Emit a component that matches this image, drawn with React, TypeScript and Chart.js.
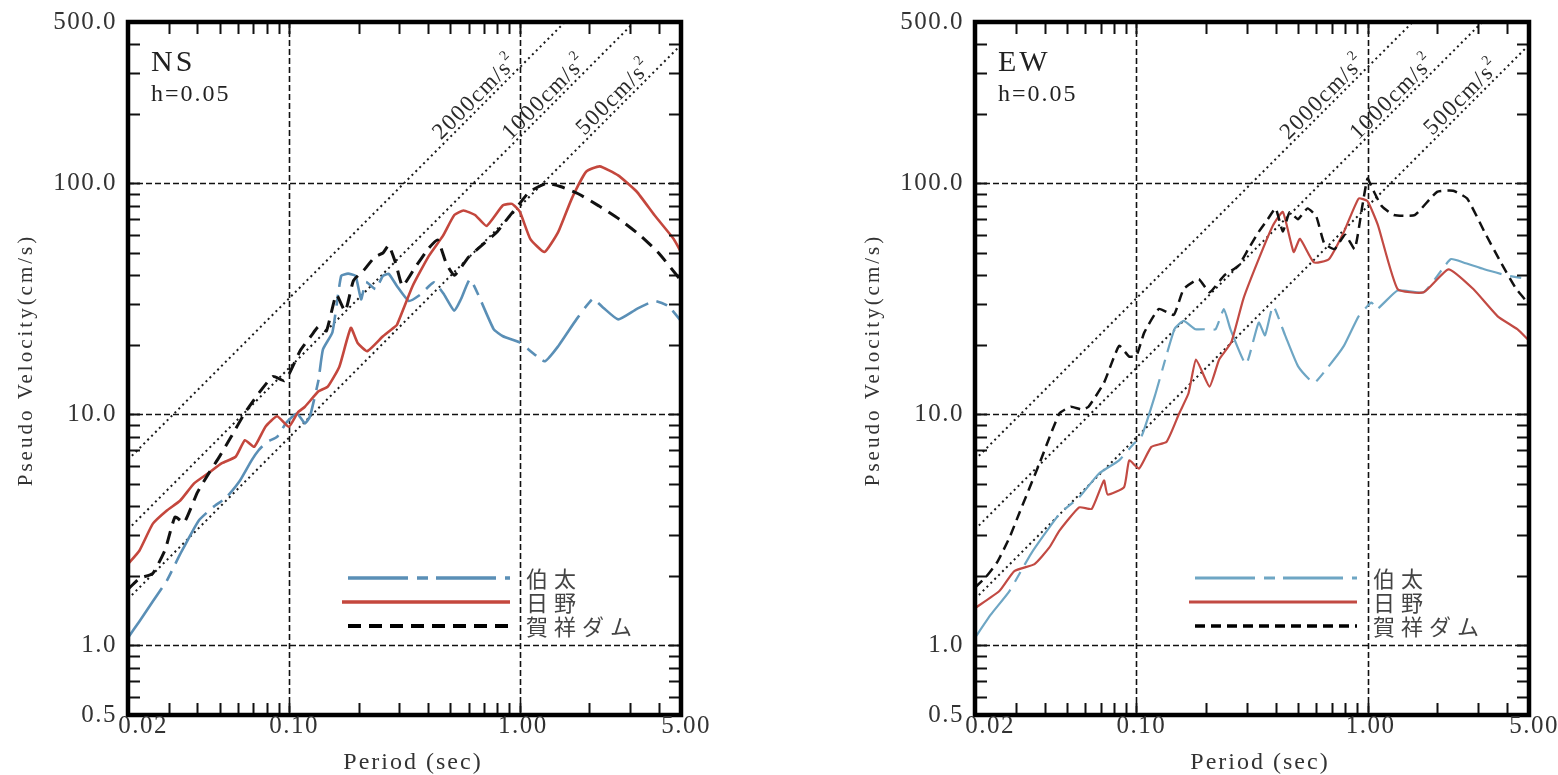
import React, { useEffect, useRef } from 'react';
import { Chart, registerables } from 'chart.js';

Chart.register(...registerables);

// ---------- axes ----------
const X_MIN = 0.02;
const X_MAX = 5;
const Y_MIN = 0.5;
const Y_MAX = 500;
const xTickValues = [0.02, 0.1, 1, 5];
const xTickLabelShift = [15, 5, 3, 5];
const yTickValues = [0.5, 1, 10, 100, 500];
const xGridValues = [0.1, 1];
const yGridValues = [1, 10, 100];
const minorMultipliers = [2, 3, 4, 5, 6, 7, 8, 9];
const decades = [0.01, 0.1, 1, 10, 100];

const seriesNames = ['伯太', '日野', '賀祥ダム'];
const dampingLabel = 'h=0.05';
const xTitle = 'Period (sec)';
const yTitle = 'Pseudo Velocity(cm/s)';

// ---------- NS ----------
const nsHakutaT = [0.02, 0.0224, 0.0256, 0.0294, 0.0337, 0.0405, 0.0466, 0.0535, 0.0612, 0.0687, 0.0737, 0.08, 0.0886, 0.097, 0.108, 0.117, 0.123, 0.134, 0.14, 0.154, 0.168, 0.18, 0.194, 0.205, 0.215, 0.237, 0.255, 0.27, 0.293, 0.33, 0.37, 0.424, 0.47, 0.52, 0.556, 0.61, 0.77, 0.845, 1.0, 1.28, 1.47, 1.76, 2.07, 2.3, 2.67, 3.21, 3.84, 4.4, 5.0];
const nsHakutaV = [1.08, 1.27, 1.55, 1.9, 2.49, 3.47, 3.96, 4.38, 5.18, 6.33, 7.0, 7.6, 8.0, 9.2, 10.1, 9.15, 9.8, 14.1, 19.1, 22.7, 39.8, 40.7, 39.8, 31.5, 37.4, 34.9, 39.8, 40.6, 36.0, 31.0, 33.0, 37.3, 33.0, 28.1, 31.6, 38.5, 23.4, 21.8, 20.5, 17.0, 19.8, 25.8, 31.6, 29.0, 25.8, 28.6, 31.0, 29.5, 25.4];

const nsHinoT = [0.02, 0.0224, 0.0256, 0.0294, 0.0337, 0.0387, 0.0445, 0.0511, 0.0586, 0.0643, 0.0705, 0.0789, 0.0886, 0.0997, 0.109, 0.117, 0.134, 0.147, 0.165, 0.185, 0.198, 0.218, 0.255, 0.28, 0.293, 0.343, 0.404, 0.464, 0.52, 0.57, 0.64, 0.718, 0.845, 0.925, 1.0, 1.11, 1.28, 1.47, 1.68, 1.94, 2.22, 2.67, 3.21, 3.84, 4.64, 5.0];
const nsHinoV = [2.25, 2.57, 3.36, 3.83, 4.24, 5.03, 5.56, 6.15, 6.56, 7.74, 7.24, 8.85, 9.82, 8.85, 10.2, 10.8, 12.6, 13.2, 16.1, 23.7, 20.4, 18.8, 21.8, 23.5, 24.4, 36.0, 48.7, 59.3, 73.0, 76.4, 73.0, 65.5, 80.4, 81.6, 75.5, 57.6, 50.5, 61.9, 86.0, 112.6, 118.6, 108.4, 92.3, 72.8, 57.6, 50.5];

const nsKashoT = [0.02, 0.0224, 0.0256, 0.029, 0.032, 0.035, 0.04, 0.045, 0.05, 0.056, 0.064, 0.074, 0.085, 0.095, 0.1, 0.112, 0.125, 0.134, 0.145, 0.16, 0.175, 0.19, 0.21, 0.235, 0.255, 0.27, 0.29, 0.31, 0.35, 0.4, 0.44, 0.48, 0.52, 0.6, 0.7, 0.8, 0.9, 1.0, 1.1, 1.3, 1.5, 1.8, 2.2, 2.7, 3.3, 4.0, 5.0];
const nsKashoV = [1.75, 1.95, 2.05, 2.6, 3.6, 3.4, 4.6, 5.6, 6.6, 8.0, 10.1, 12.4, 14.6, 14.0, 15.0, 19.0, 22.0, 24.0, 23.0, 33.0, 28.0, 38.0, 42.0, 48.0, 50.0, 54.0, 45.0, 36.0, 43.0, 52.0, 57.0, 45.0, 40.0, 48.0, 55.0, 62.0, 72.0, 82.0, 92.0, 100.0, 97.0, 90.0, 80.0, 70.0, 60.0, 50.0, 38.0];

// ---------- EW ----------
const ewHakutaT = [0.02, 0.0234, 0.0282, 0.035, 0.0464, 0.0565, 0.0687, 0.0841, 0.0977, 0.105, 0.12, 0.146, 0.16, 0.18, 0.2, 0.22, 0.239, 0.255, 0.298, 0.338, 0.36, 0.39, 0.44, 0.5, 0.586, 0.68, 0.79, 0.915, 1.04, 1.1, 1.35, 1.75, 2.29, 2.6, 3.2, 4.0, 5.0];
const ewHakutaV = [1.08, 1.36, 1.72, 2.5, 3.71, 4.38, 5.54, 6.33, 7.5, 8.0, 12.0, 23.4, 25.4, 23.4, 23.4, 23.4, 28.6, 23.4, 16.5, 25.0, 22.0, 29.5, 22.0, 16.2, 13.7, 16.2, 19.8, 26.6, 30.5, 28.6, 34.4, 33.8, 47.0, 45.5, 42.5, 40.0, 38.5];

const ewHinoT = [0.02, 0.0255, 0.0296, 0.0362, 0.0419, 0.0464, 0.0565, 0.064, 0.0723, 0.075, 0.0884, 0.093, 0.1026, 0.116, 0.135, 0.153, 0.168, 0.181, 0.207, 0.228, 0.257, 0.29, 0.338, 0.39, 0.43, 0.479, 0.51, 0.586, 0.68, 0.79, 0.915, 1.0, 1.11, 1.35, 1.75, 2.24, 2.87, 3.66, 4.45, 5.0];
const ewHinoV = [1.45, 1.72, 2.1, 2.25, 2.65, 3.14, 3.96, 3.9, 5.18, 4.5, 4.85, 6.33, 5.83, 7.24, 7.62, 10.1, 12.35, 17.3, 13.2, 17.3, 20.5, 31.6, 47.0, 65.9, 75.3, 50.5, 57.6, 45.5, 47.0, 61.7, 86.0, 83.8, 65.9, 34.9, 33.8, 42.5, 34.9, 26.6, 23.4, 20.9];

const ewKashoT = [0.02, 0.0225, 0.025, 0.0282, 0.031, 0.038, 0.0464, 0.052, 0.058, 0.062, 0.0723, 0.0841, 0.093, 0.1, 0.108, 0.125, 0.145, 0.16, 0.186, 0.207, 0.24, 0.276, 0.305, 0.338, 0.37, 0.4, 0.43, 0.46, 0.5, 0.55, 0.6, 0.65, 0.72, 0.8, 0.88, 0.95, 1.0, 1.05, 1.15, 1.3, 1.6, 2.0, 2.35, 2.7, 3.2, 3.8, 4.4, 5.0];
const ewKashoV = [1.78, 2.0, 2.3, 2.93, 3.71, 6.13, 10.1, 10.8, 10.5, 10.8, 13.7, 19.8, 17.8, 18.0, 22.6, 28.6, 27.0, 34.9, 38.5, 33.8, 40.0, 44.0, 52.0, 61.7, 70.0, 78.0, 62.0, 75.0, 70.0, 78.0, 72.0, 55.0, 52.0, 60.0, 52.0, 80.0, 105.0, 95.0, 80.0, 73.0, 73.0, 92.0, 93.0, 86.0, 62.0, 45.0, 35.0, 30.0];

// ---------- constant-acceleration guide lines ----------
const accelLabels = ['2000', '1000', '500'];
const accelStartT = [0.02, 0.02, 0.02];
const accelStartV = [6.37, 3.18, 1.59];
const accelEndT = [1.57, 3.14, 5.0];
const accelEndV = [500, 500, 398];
const accelLabelT = [0.69, 1.38, 2.76];
const accelLabelV = [219.6, 219.6, 219.6];

const SERIF = "'Liberation Serif', 'Times New Roman', serif";
const CJK = "'Noto Sans CJK JP', 'Noto Sans CJK SC', sans-serif";

type Panel = {
  key: string;
  name: string;
  canvasLeft: number;
  plotLeft: number;
  plotRight: number;
  hT: number[]; hV: number[];
  rT: number[]; rV: number[];
  kT: number[]; kV: number[];
  blue: string; red: string;
  wBlue: number; wRed: number; wBlack: number;
  dashBlue: number[]; dashBlack: number[];
};

const CANVAS_W = 780;
const CANVAS_H = 775;
const PLOT_TOP = 22;
const PLOT_BOTTOM = 715;

const panels: Panel[] = [
  {
    key: 'ns', name: 'NS', canvasLeft: 0, plotLeft: 128, plotRight: 681,
    hT: nsHakutaT, hV: nsHakutaV, rT: nsHinoT, rV: nsHinoV, kT: nsKashoT, kV: nsKashoV,
    blue: '#5a8fb6', red: '#c4473d', wBlue: 2.6, wRed: 2.6, wBlack: 3,
    dashBlue: [60, 9, 11, 8], dashBlack: [13, 8],
  },
  {
    key: 'ew', name: 'EW', canvasLeft: 778, plotLeft: 197, plotRight: 751,
    hT: ewHakutaT, hV: ewHakutaV, rT: ewHinoT, rV: ewHinoV, kT: ewKashoT, kV: ewKashoV,
    blue: '#6ea6c4', red: '#c24a43', wBlue: 2.2, wRed: 2.2, wBlack: 2.5,
    dashBlue: [60, 9, 11, 8], dashBlack: [10, 6],
  },
];

function zip(t: number[], v: number[]) {
  return t.map((x, i) => ({ x, y: v[i] }));
}

function drawText(ctx: any, s: string, x: number, y: number, font: string, color: string, align: string, base: string, ls: number) {
  ctx.save();
  ctx.font = font;
  ctx.fillStyle = color;
  ctx.textAlign = align;
  ctx.textBaseline = base;
  ctx.letterSpacing = ls + 'px';
  ctx.fillText(s, x, y);
  ctx.restore();
}

function makeDecor(p: Panel) {
  return {
    id: 'decor_' + p.key,
    beforeDraw(chart: any) {
      chart.ctx.letterSpacing = '1.5px';
    },
    beforeDatasetsDraw(chart: any) {
      const { ctx, chartArea: a, scales } = chart;
      const xs = scales.x;
      const ys = scales.y;
      ctx.save();
      ctx.strokeStyle = '#111';
      ctx.lineWidth = 1.6;
      ctx.setLineDash([6, 3]);
      for (const v of xGridValues) {
        const px = Math.round(xs.getPixelForValue(v)) + 0.5;
        ctx.beginPath();
        ctx.moveTo(px, a.top);
        ctx.lineTo(px, a.bottom);
        ctx.stroke();
      }
      for (const v of yGridValues) {
        const py = Math.round(ys.getPixelForValue(v)) + 0.5;
        ctx.beginPath();
        ctx.moveTo(a.left, py);
        ctx.lineTo(a.right, py);
        ctx.stroke();
      }
      ctx.restore();
    },
    afterDatasetsDraw(chart: any) {
      const { ctx, chartArea: a, scales } = chart;
      const xs = scales.x;
      const ys = scales.y;

      // inward ticks
      ctx.save();
      ctx.strokeStyle = '#111';
      ctx.lineWidth = 2;
      ctx.setLineDash([]);
      const TL = 12;
      for (const d of decades) {
        for (const m of [1, ...minorMultipliers]) {
          const v = d * m;
          if (v > X_MIN * 1.0001 && v < X_MAX * 0.9999) {
            const px = Math.round(xs.getPixelForValue(v)) + 0.5;
            ctx.beginPath();
            ctx.moveTo(px, a.bottom); ctx.lineTo(px, a.bottom - TL);
            ctx.moveTo(px, a.top); ctx.lineTo(px, a.top + TL);
            ctx.stroke();
          }
          if (v > Y_MIN * 1.0001 && v < Y_MAX * 0.9999) {
            const py = Math.round(ys.getPixelForValue(v)) + 0.5;
            ctx.beginPath();
            ctx.moveTo(a.left, py); ctx.lineTo(a.left + TL, py);
            ctx.moveTo(a.right, py); ctx.lineTo(a.right - TL, py);
            ctx.stroke();
          }
        }
      }
      // frame
      ctx.lineWidth = 4.5;
      ctx.strokeStyle = '#000';
      ctx.strokeRect(a.left, a.top, a.right - a.left, a.bottom - a.top);
      ctx.restore();

      // x tick labels
      xs.ticks.forEach((t: any, i: number) => {
        const px = xs.getPixelForValue(t.value) + xTickLabelShift[i];
        drawText(ctx, Number(t.value).toFixed(2), px, 726, `25px ${SERIF}`, '#333', 'center', 'middle', 1.5);
      });

      // acceleration labels
      for (let i = 0; i < accelLabels.length; i++) {
        const x0 = xs.getPixelForValue(accelStartT[i]);
        const y0 = ys.getPixelForValue(accelStartV[i]);
        const x1 = xs.getPixelForValue(accelEndT[i]);
        const y1 = ys.getPixelForValue(accelEndV[i]);
        const ang = Math.atan2(y1 - y0, x1 - x0);
        const ax = xs.getPixelForValue(accelLabelT[i]);
        const ay = ys.getPixelForValue(accelLabelV[i]);
        ctx.save();
        ctx.translate(ax, ay);
        ctx.rotate(ang);
        ctx.fillStyle = '#2a2a2a';
        ctx.letterSpacing = '1.5px';
        ctx.font = `23px ${SERIF}`;
        const main = accelLabels[i] + 'cm/s';
        const w1 = ctx.measureText(main).width;
        ctx.font = `14px ${SERIF}`;
        const w2 = ctx.measureText('2').width;
        const sx = -(w1 + w2) / 2;
        ctx.textAlign = 'left';
        ctx.textBaseline = 'alphabetic';
        ctx.font = `23px ${SERIF}`;
        ctx.fillText(main, sx, -4);
        ctx.font = `14px ${SERIF}`;
        ctx.fillText('2', sx + w1, -15);
        ctx.restore();
      }

      // panel name and damping
      drawText(ctx, p.name, a.left + 23, 71, `30px ${SERIF}`, '#222', 'left', 'alphabetic', 3);
      drawText(ctx, dampingLabel, a.left + 23, 101, `24px ${SERIF}`, '#222', 'left', 'alphabetic', 2);

      // legend
      const legY = [578, 602, 626];
      const lx0 = a.left + 220;
      const lx1 = a.left + 382;
      ctx.save();
      ctx.lineCap = 'butt';
      ctx.strokeStyle = p.blue; ctx.lineWidth = p.wBlue + 1; ctx.setLineDash(p.dashBlue);
      ctx.beginPath(); ctx.moveTo(lx0, legY[0]); ctx.lineTo(lx1, legY[0]); ctx.stroke();
      ctx.strokeStyle = p.red; ctx.lineWidth = p.wRed + 1; ctx.setLineDash([]);
      ctx.beginPath(); ctx.moveTo(lx0 - 6, legY[1]); ctx.lineTo(lx1, legY[1]); ctx.stroke();
      ctx.strokeStyle = '#000'; ctx.lineWidth = p.wBlack + 1; ctx.setLineDash(p.dashBlack);
      ctx.beginPath(); ctx.moveTo(lx0, legY[2]); ctx.lineTo(lx1, legY[2]); ctx.stroke();
      ctx.restore();
      for (let i = 0; i < seriesNames.length; i++) {
        drawText(ctx, seriesNames[i], a.left + 398, legY[i] + 1, `22px ${CJK}`, '#444', 'left', 'middle', 6);
      }

      // axis titles
      drawText(ctx, xTitle, a.left + 285, 763, `24px ${SERIF}`, '#333', 'center', 'middle', 2);
      ctx.save();
      ctx.translate(a.left - 102, 360);
      ctx.rotate(-Math.PI / 2);
      drawText(ctx, yTitle, 0, 0, `21px ${SERIF}`, '#333', 'center', 'middle', 3);
      ctx.restore();
    },
  };
}

function buildConfig(p: Panel): any {
  const accelSets = accelLabels.map((lab, i) => ({
    label: lab + 'cm/s2',
    data: [{ x: accelStartT[i], y: accelStartV[i] }, { x: accelEndT[i], y: accelEndV[i] }],
    borderColor: '#1a1a1a',
    borderWidth: 2,
    borderDash: [2, 3.5],
    pointRadius: 0,
    showLine: true,
    tension: 0,
  }));
  const tickFont = { family: SERIF, size: 25 };
  return {
    type: 'scatter',
    data: {
      datasets: [
        { label: seriesNames[2], data: zip(p.kT, p.kV), borderColor: '#111', borderWidth: p.wBlack, borderDash: p.dashBlack, pointRadius: 0, showLine: true, tension: 0.15 },
        { label: seriesNames[1], data: zip(p.rT, p.rV), borderColor: p.red, borderWidth: p.wRed, pointRadius: 0, showLine: true, tension: 0.15 },
        { label: seriesNames[0], data: zip(p.hT, p.hV), borderColor: p.blue, borderWidth: p.wBlue, borderDash: p.dashBlue, pointRadius: 0, showLine: true, tension: 0.15 },
        ...accelSets,
      ],
    },
    options: {
      responsive: false,
      maintainAspectRatio: false,
      animation: false,
      events: [],
      layout: { padding: { left: 0, top: PLOT_TOP, right: CANVAS_W - p.plotRight, bottom: 0 } },
      plugins: { legend: { display: false }, tooltip: { enabled: false }, title: { display: false } },
      scales: {
        x: {
          type: 'logarithmic',
          min: X_MIN,
          max: X_MAX,
          grid: { display: false, drawTicks: false },
          border: { display: false },
          ticks: { display: false, autoSkip: false },
          afterBuildTicks: (s: any) => { s.ticks = xTickValues.map((v) => ({ value: v })); },
          afterFit: (s: any) => { s.height = CANVAS_H - PLOT_BOTTOM; s.paddingLeft = 0; s.paddingRight = 0; },
        },
        y: {
          type: 'logarithmic',
          min: Y_MIN,
          max: Y_MAX,
          grid: { display: false, drawTicks: false },
          border: { display: false },
          ticks: {
            font: tickFont,
            color: '#333',
            padding: 11,
            autoSkip: false,
            callback: (v: any) => Number(v).toFixed(1),
          },
          afterBuildTicks: (s: any) => { s.ticks = yTickValues.map((v) => ({ value: v })); },
          afterFit: (s: any) => { s.width = p.plotLeft; s.paddingTop = 0; s.paddingBottom = 0; },
        },
      },
    },
    plugins: [makeDecor(p)],
  };
}

export default function App() {
  const ref1 = useRef<HTMLCanvasElement>(null);
  const ref2 = useRef<HTMLCanvasElement>(null);
  useEffect(() => {
    const c1 = new Chart(ref1.current as HTMLCanvasElement, buildConfig(panels[0]));
    const c2 = new Chart(ref2.current as HTMLCanvasElement, buildConfig(panels[1]));
    return () => { c1.destroy(); c2.destroy(); };
  }, []);
  const cs = (left: number): React.CSSProperties => ({ position: 'absolute', left, top: 0, width: CANVAS_W, height: CANVAS_H, display: 'block' });
  return (
    <div style={{ position: 'absolute', left: 0, top: 0, width: 1558, height: 775, background: '#fff', overflow: 'hidden' }}>
      <canvas ref={ref1} width={CANVAS_W} height={CANVAS_H} style={cs(panels[0].canvasLeft)} />
      <canvas ref={ref2} width={CANVAS_W} height={CANVAS_H} style={cs(panels[1].canvasLeft)} />
    </div>
  );
}
